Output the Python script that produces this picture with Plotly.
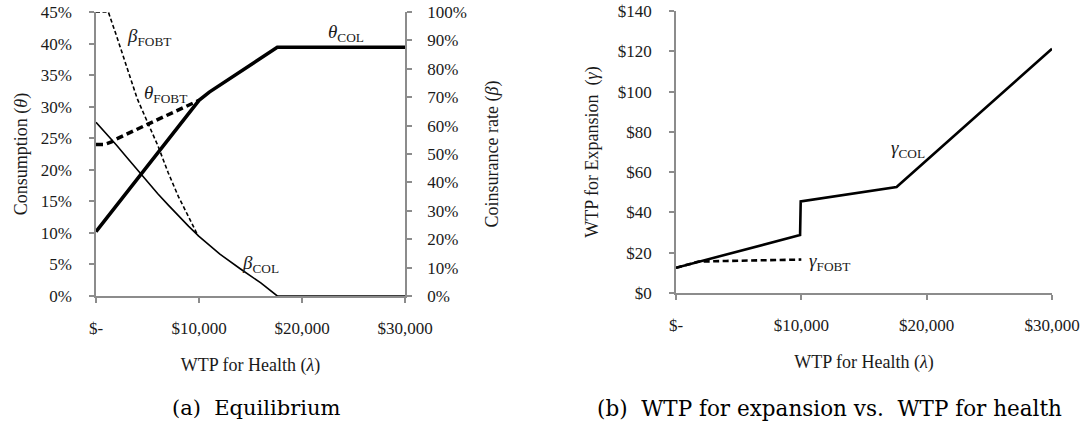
import plotly.graph_objects as go

# ---------------- data ----------------
lam_ticks = [0, 10000, 20000, 30000]
lam_ticktext = ["$-", "$10,000", "$20,000", "$30,000"]

# Panel (a): consumption theta (left axis, %) and coinsurance beta (right axis, %)
lam_theta_col = [0, 2500, 5000, 7500, 10000, 11000, 12500, 15000, 17600, 30000]
theta_col = [10.2, 15.4, 20.6, 25.8, 31.0, 32.3, 33.9, 36.6, 39.4, 39.4]

lam_theta_fobt = [0, 800, 1500, 2000, 5000, 10000]
theta_fobt = [24.0, 24.0, 24.4, 24.9, 27.2, 31.0]

lam_beta_col = [0, 1000, 2000, 3000, 4000, 5000, 6000, 7000, 8000, 9000, 10000,
                12000, 14000, 16000, 17600, 30000]
beta_col = [61.2, 57.2, 53.1, 48.8, 44.4, 40.2, 36.0, 32.1, 28.2, 24.5, 21.0,
            14.8, 9.6, 4.6, 0.0, 0.0]

lam_beta_fobt = [0, 1200, 2000, 3000, 4000, 5000, 6000, 7000, 8000, 9000, 9900]
beta_fobt = [100, 100, 91.5, 80.5, 69.5, 61.2, 53.0, 43.5, 35.0, 27.8, 21.2]

theta_ticks = [0, 5, 10, 15, 20, 25, 30, 35, 40, 45]
theta_ticktext = ["0%", "5%", "10%", "15%", "20%", "25%", "30%", "35%", "40%", "45%"]
beta_ticks = [0, 10, 20, 30, 40, 50, 60, 70, 80, 90, 100]
beta_ticktext = ["0%", "10%", "20%", "30%", "40%", "50%", "60%", "70%", "80%", "90%", "100%"]

# Panel (b): WTP for expansion gamma ($)
lam_gamma_col = [0, 9900, 9950, 17600, 30000]
gamma_col = [12.5, 28.8, 45.5, 52.6, 121.3]

lam_gamma_fobt = [0, 1800, 4000, 7000, 10000]
gamma_fobt = [12.5, 15.6, 15.9, 16.2, 16.6]

gamma_ticks = [0, 20, 40, 60, 80, 100, 120, 140]
gamma_ticktext = ["$0", "$20", "$40", "$60", "$80", "$100", "$120", "$140"]

# ---------------- figure ----------------
W, H = 1085, 427
SERIF = "Liberation Serif, Times New Roman, serif"
CAP = "DejaVu Serif, serif"
AX = "#8c8c8c"
TXT = "#1a1a1a"


def px_x(p):
    return p / W


def px_y(p):
    return 1 - p / H


fig = go.Figure()

fig.add_trace(go.Scatter(x=lam_theta_col, y=theta_col, mode="lines", name="θ COL",
                         line=dict(color="black", width=3.5), xaxis="x", yaxis="y"))
fig.add_trace(go.Scatter(x=lam_theta_fobt, y=theta_fobt, mode="lines", name="θ FOBT",
                         line=dict(color="black", width=3.5, dash="7px,4px"), xaxis="x", yaxis="y"))
fig.add_trace(go.Scatter(x=lam_beta_col, y=beta_col, mode="lines", name="β COL",
                         line=dict(color="black", width=1.6), xaxis="x", yaxis="y2"))
fig.add_trace(go.Scatter(x=lam_beta_fobt, y=beta_fobt, mode="lines", name="β FOBT",
                         line=dict(color="black", width=1.6, dash="4px,2.5px"), xaxis="x", yaxis="y2"))
fig.add_trace(go.Scatter(x=lam_gamma_col, y=gamma_col, mode="lines", name="γ COL",
                         line=dict(color="black", width=2.6), xaxis="x2", yaxis="y3"))
fig.add_trace(go.Scatter(x=lam_gamma_fobt, y=gamma_fobt, mode="lines", name="γ FOBT",
                         line=dict(color="black", width=2.6, dash="6px,3.5px"), xaxis="x2", yaxis="y3"))

tickfont = dict(family=SERIF, size=17, color=TXT)
titlefont = dict(family=SERIF, size=18, color=TXT)

axis_style = dict(showgrid=False, zeroline=False, showline=True, linecolor=AX, linewidth=1.5,
                  ticks="outside", ticklen=5, tickcolor=AX, tickwidth=1.5,
                  tickfont=tickfont, automargin=False, fixedrange=True)

common_x = dict(range=[0, 30000], tickvals=lam_ticks, ticktext=lam_ticktext,
                ticklabelstandoff=11, **axis_style)

fig.update_layout(
    width=W, height=H,
    margin=dict(l=0, r=0, t=0, b=0, autoexpand=False),
    paper_bgcolor="white", plot_bgcolor="white",
    showlegend=False,
    xaxis=dict(domain=[px_x(96), px_x(405)], anchor="y",
               title=dict(text="WTP for Health (<i>λ</i>)", font=titlefont, standoff=21),
               **common_x),
    yaxis=dict(domain=[px_y(296), px_y(12)], anchor="x", range=[0, 45],
               tickvals=theta_ticks, ticktext=theta_ticktext, ticklabelstandoff=14,
               title=dict(text="Consumption (<i>θ</i>)", font=titlefont, standoff=8),
               **axis_style),
    yaxis2=dict(overlaying="y", side="right", anchor="x", range=[0, 100],
                tickvals=beta_ticks, ticktext=beta_ticktext, ticklabelstandoff=12,
                title=dict(text="Coinsurance rate (<i>β</i>)", font=titlefont, standoff=20),
                **axis_style),
    xaxis2=dict(domain=[px_x(676), px_x(1052)], anchor="y3",
                title=dict(text="WTP for Health (<i>λ</i>)", font=titlefont, standoff=21),
                **common_x),
    yaxis3=dict(domain=[px_y(293), px_y(11)], anchor="x2", range=[0, 140],
                tickvals=gamma_ticks, ticktext=gamma_ticktext, ticklabelstandoff=14,
                title=dict(text="WTP for Expansion\u00a0 (<i>γ</i>)", font=titlefont, standoff=15),
                **axis_style),
)

lab_font = dict(family=SERIF, size=19, color=TXT)
labels = [
    ("x", "y", 5100, 41.1, "<i>β</i><sub>FOBT</sub>"),
    ("x", "y", 6700, 32.0, "<i>θ</i><sub>FOBT</sub>"),
    ("x", "y", 24300, 41.6, "<i>θ</i><sub>COL</sub>"),
    ("x", "y", 16000, 5.0, "<i>β</i><sub>COL</sub>"),
    ("x2", "y3", 18500, 71.5, "<i>γ</i><sub>COL</sub>"),
    ("x2", "y3", 12300, 15.5, "<i>γ</i><sub>FOBT</sub>"),
]
for xr, yr, xv, yv, t in labels:
    fig.add_annotation(x=xv, y=yv, xref=xr, yref=yr, text=t, showarrow=False,
                       font=lab_font, xanchor="center", yanchor="middle")

cap_font = dict(family=CAP, size=21, color="black")
fig.add_annotation(x=px_x(256), y=px_y(408), xref="paper", yref="paper",
                   text="(a)  Equilibrium", showarrow=False, font=cap_font,
                   xanchor="center", yanchor="middle")
fig.add_annotation(x=px_x(829), y=px_y(408), xref="paper", yref="paper",
                   text="(b)  WTP for expansion vs.  WTP for health", showarrow=False,
                   font=dict(family=CAP, size=21.5, color="black"),
                   xanchor="center", yanchor="middle")

fig.write_html("out.html", config={"displayModeBar": False},
               post_script="document.body.style.margin='0';document.body.style.overflow='hidden';")
